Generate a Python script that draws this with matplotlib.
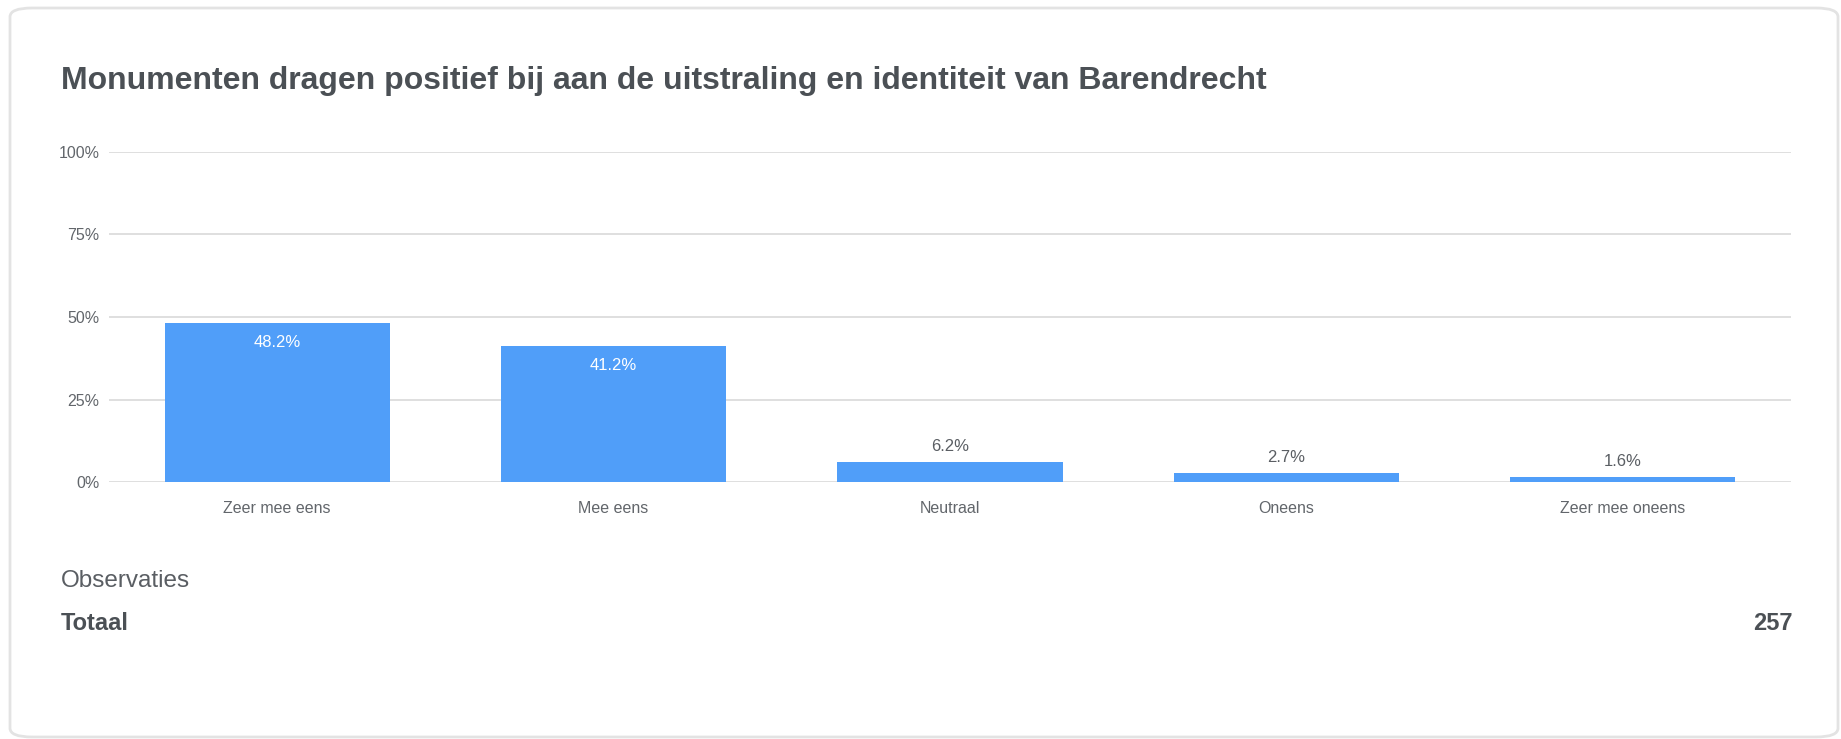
import matplotlib
matplotlib.use("Agg")
import matplotlib.pyplot as plt
from matplotlib.patches import FancyBboxPatch

plt.rcParams['font.family'] = ['Liberation Sans', 'DejaVu Sans']

# data
categories = ['Zeer mee eens', 'Mee eens', 'Neutraal', 'Oneens', 'Zeer mee oneens']
percentages = [48.2, 41.2, 6.2, 2.7, 1.6]
yticks = [0, 25, 50, 75, 100]
ytick_labels = ['0%', '25%', '50%', '75%', '100%']
title = 'Monumenten dragen positief bij aan de uitstraling en identiteit van Barendrecht'
total = 257

W, H = 1841, 739
fig = plt.figure(figsize=(W / 100, H / 100), dpi=100)
fig.patch.set_facecolor('white')

# card border
card = FancyBboxPatch((10 / W, 2 / H), 1828 / W, 729 / H,
                      boxstyle='round,pad=0,rounding_size=0.012',
                      transform=fig.transFigure, facecolor='none',
                      edgecolor='#e3e3e3', linewidth=2, zorder=-1)
fig.patches.append(card)

ax_l, ax_r = 109 / W, 1791 / W
ax_b, ax_t = 1 - 482 / H, 1 - 152 / H
ax = fig.add_axes([ax_l, ax_b, ax_r - ax_l, ax_t - ax_b])
ax.set_facecolor('none')

x = range(len(categories))
bars = ax.bar(x, percentages, width=0.669, color='#509ef9', zorder=3)

ax.set_xlim(-0.5, len(categories) - 0.5)
ax.set_ylim(0, 100)
ax.set_yticks(yticks)
ax.set_yticklabels(ytick_labels)
ax.set_xticks(list(x))
ax.set_xticklabels(categories)
ax.grid(axis='y', color='#d6d6d6', linewidth=1.1, zorder=0)
for s in ax.spines.values():
    s.set_visible(False)
ax.tick_params(axis='both', length=0, labelsize=11.5)
ax.tick_params(axis='y', pad=7)
ax.tick_params(axis='x', pad=14)
for lbl in ax.get_xticklabels() + ax.get_yticklabels():
    lbl.set_color('#62666b')

for xi, v in zip(x, percentages):
    if v > 20:
        ax.annotate(f'{v}%', (xi, v), xytext=(0, -14), textcoords='offset points',
                    ha='center', va='center', color='white', fontsize=12)
    else:
        ax.annotate(f'{v}%', (xi, v), xytext=(0, 11), textcoords='offset points',
                    ha='center', va='center', color='#5a5e63', fontsize=12)

fig.text(61 / W, 1 - 81 / H, title, fontsize=23, fontweight='bold',
         color='#4b5055', ha='left', va='center')
fig.text(61 / W, 1 - 581 / H, 'Observaties', fontsize=17.5,
         color='#5a5e63', ha='left', va='center')
fig.text(61 / W, 1 - 623 / H, 'Totaal', fontsize=17, fontweight='bold',
         color='#4b5055', ha='left', va='center')
fig.text(1793 / W, 1 - 623 / H, str(total), fontsize=17, fontweight='bold',
         color='#4b5055', ha='right', va='center')

fig.savefig('out.png', dpi=100, facecolor='white')
